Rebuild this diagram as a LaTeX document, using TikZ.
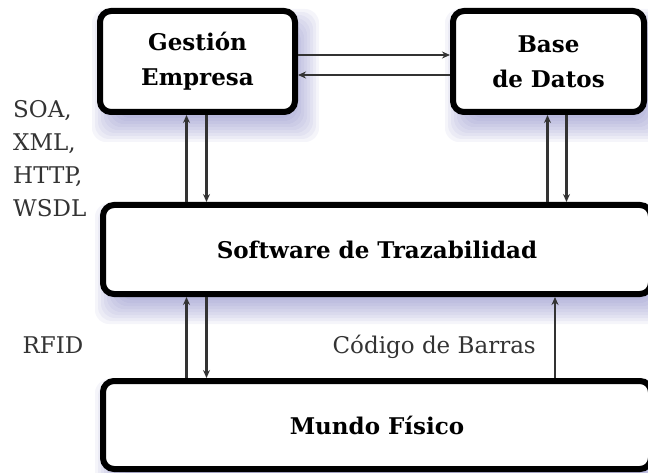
\documentclass[tikz,border=0pt]{standalone}
\usepackage{fontspec}
\setmainfont{DejaVu Serif}
\usepackage{tikz}
\usetikzlibrary{arrows.meta,backgrounds}

\definecolor{linegray}{RGB}{51,51,51}
\definecolor{shadowblue}{RGB}{110,110,185}

\begin{document}
\begin{tikzpicture}[x=1pt,y=1pt,
	box/.style = {draw, line width=6pt, rounded corners=11pt, fill=white, align=center, font=\fontsize{23}{35}\selectfont\bfseries},
	lbl/.style = {text=linegray, inner sep=0pt, align=left, font=\fontsize{23}{33}\selectfont},
	link/.style = {draw=linegray, line width=2.4pt, -{Stealth[length=8pt,width=7pt]}}]
			\useasboundingbox (0,0) rectangle (648,472);
			\node[box, minimum width=195pt, minimum height=101pt] (empresa) at (197.5,410.5) {Gestión\\Empresa};
			\node[box, minimum width=191pt, minimum height=101pt] (datos) at (548.5,410.5) {Base\\de Datos};
			\node[box, minimum width=548pt, minimum height=89pt] (software) at (377,222.5) {Software de Trazabilidad};
			\node[box, minimum width=548pt, minimum height=88pt] (mundo) at (377,47) {Mundo Físico};
			% soft shadows
			\begin{scope}[on background layer]
				\foreach \n in {empresa,datos,software,mundo}
					\foreach \g in {-14,-11,...,13}
						\fill[shadowblue, opacity=0.07, rounded corners=14pt] ([shift={(8-\g,-14+\g)}]\n.north west) rectangle ([shift={(8+\g,-14-\g)}]\n.south east);
			\end{scope}
			\coordinate (e1) at ([xshift=-11pt]empresa.south);
			\coordinate (e2) at ([xshift=9pt]empresa.south);
			\coordinate (d1) at ([xshift=-1pt]datos.south);
			\coordinate (d2) at ([xshift=18pt]datos.south);
			\coordinate (d3) at ([xshift=6.5pt]datos.south);
			\draw[link] ([yshift=6.5pt]empresa.east) -- ([yshift=6.5pt]datos.west);
			\draw[link] ([yshift=-13.5pt]datos.west) -- ([yshift=-13.5pt]empresa.east);
			\draw[link] (e1 |- software.north) -- (e1);
			\draw[link] (e2) -- (e2 |- software.north);
			\draw[link] (d1 |- software.north) -- (d1);
			\draw[link] (d2) -- (d2 |- software.north);
			\draw[link] (e1 |- mundo.north) -- (e1 |- software.south);
			\draw[link] (e2 |- software.south) -- (e2 |- mundo.north);
			\draw[link] (d3 |- mundo.north) -- (d3 |- software.south);
			\node[lbl, anchor=base west] (proto) at (13,255) {SOA,\\XML,\\HTTP,\\WSDL};
			\node[lbl] (rfid) at (53,127) {RFID};
			\node[lbl, anchor=east] (codigo) at (536,125) {Código de Barras};
		\end{tikzpicture}
\end{document}
